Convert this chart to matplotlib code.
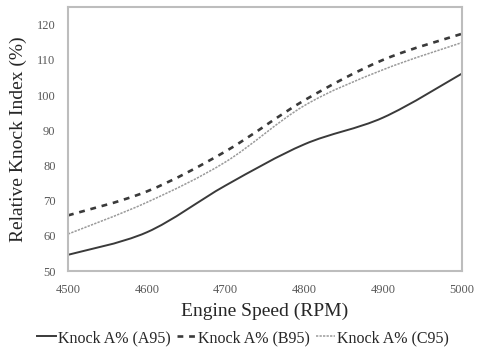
import matplotlib.pyplot as plt
from matplotlib.path import Path
from matplotlib.patches import PathPatch
from matplotlib.lines import Line2D
import numpy as np

rpm = [4500, 4600, 4700, 4800, 4900, 5000]
knock_a95 = [54.6, 61.0, 74.3, 86.0, 93.6, 106.1]
knock_b95 = [65.8, 72.6, 84.0, 98.5, 110.0, 117.4]
knock_c95 = [60.5, 69.5, 81.0, 97.0, 107.2, 114.9]

labels = ["Knock A% (A95)", "Knock A% (B95)", "Knock A% (C95)"]


def smooth_path(x, y):
    # courbe lissee type Excel (Catmull-Rom -> Bezier)
    x = np.asarray(x, float)
    y = np.asarray(y, float)
    verts = [(x[0], y[0])]
    codes = [Path.MOVETO]
    n = len(x)
    for i in range(n - 1):
        i0 = max(i - 1, 0)
        i3 = min(i + 2, n - 1)
        c1 = (x[i] + (x[i + 1] - x[i0]) / 6, y[i] + (y[i + 1] - y[i0]) / 6)
        c2 = (x[i + 1] - (x[i3] - x[i]) / 6, y[i + 1] - (y[i3] - y[i]) / 6)
        verts += [c1, c2, (x[i + 1], y[i + 1])]
        codes += [Path.CURVE4] * 3
    return Path(verts, codes)


fig = plt.figure(figsize=(4.8, 3.52), dpi=100)
ax = fig.add_axes([0.1417, 0.2301, 0.8208, 0.75])

styles = [
    dict(color="#3a3a3a", lw=1.4, ls="-"),
    dict(color="#3a3a3a", lw=1.9, ls=(0, (2.2, 2.2))),
    dict(color="#9a9a9a", lw=1.1, ls=(0, (1.5, 0.8))),
]
for ys, st in zip([knock_a95, knock_b95, knock_c95], styles):
    ax.add_patch(PathPatch(smooth_path(rpm, ys), fill=False, edgecolor=st["color"],
                           lw=st["lw"], ls=st["ls"]))

ax.set_xlim(4500, 5000)
ax.set_ylim(50, 125)
ax.set_xticks(rpm)
ax.set_yticks(range(50, 121, 10))
ax.tick_params(length=0, labelsize=9, labelcolor="#595959", pad=9)
for lab in ax.get_xticklabels() + ax.get_yticklabels():
    lab.set_family("Liberation Serif")
for sp in ax.spines.values():
    sp.set_color("#bdbdbd")
    sp.set_linewidth(1.5)

ax.set_xlabel("Engine Speed (RPM)", family="Liberation Serif", fontsize=14,
              color="#262626", labelpad=5)
ax.set_ylabel("Relative Knock Index (%)", family="Liberation Serif", fontsize=14,
              color="#262626", labelpad=7)

handles = [Line2D([], [], color=st["color"], lw=st["lw"], ls=st["ls"]) for st in styles]
fig.legend(handles, labels, loc="center", bbox_to_anchor=(0.506, 0.04), ncol=3,
           frameon=False, handlelength=1.2, handletextpad=0.1, columnspacing=0.4,
           prop={"family": "Liberation Serif", "size": 11.5}, labelcolor="#262626")

fig.savefig("out.png", dpi=100)
